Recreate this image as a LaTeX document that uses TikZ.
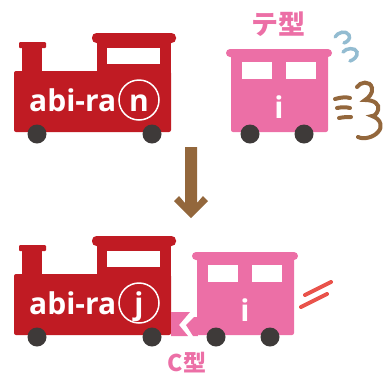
\documentclass[tikz,border=0pt]{standalone}
\usepackage{fontspec}
\setsansfont{Open Sans}
\newfontfamily\jpfont{Noto Sans CJK JP}
\usepackage{tikz}
\usetikzlibrary{positioning}
\definecolor{LocoRed}{HTML}{C01B23}
\definecolor{CarPink}{HTML}{EC6FA6}
\definecolor{WheelGray}{HTML}{3E3A39}
\definecolor{PuffBrown}{HTML}{93673C}
\definecolor{WindBlue}{HTML}{93BCD1}
\definecolor{SpeedRed}{HTML}{E9534B}

\begin{document}
\begin{tikzpicture}[x=1pt,y=-1pt,font=\sffamily,
  wheel/.style={fill=WheelGray},
  letter/.style={text=white,font=\sffamily\bfseries\fontsize{30}{30}\selectfont,inner sep=0pt,anchor=base},
  typelabel/.style={text=CarPink,inner sep=0pt}]
  \useasboundingbox (0,0) rectangle (390,381);

  % two rows: locomotive + car, before (n) and after (j)
  \foreach \dy/\dx/\ch/\nm in {0/0/n/top,203/-34/j/bot}{
    \begin{scope}[yshift=-\dy pt]
      % locomotive
      \fill[LocoRed,rounded corners=2pt] (14,71) rectangle (171,132);
      \fill[LocoRed] (97,42) rectangle (171,73);
      \fill[LocoRed,rounded corners=4.5pt] (92,33) rectangle (176,43);
      \fill[LocoRed] (22,46) rectangle (42,73);
      \fill[LocoRed,rounded corners=1pt] (19,42) rectangle (46,48);
      \fill[white] (107,48) rectangle (160,64);
      \node[letter,anchor=base west] (word-\nm) at (29,111) {abi-ra};
      \draw[white,line width=1.5pt] (139,100) circle[radius=20];
      \node[letter] (end-\nm) at (139,111) {\ch};
      \fill[wheel] (37,134) circle[radius=9.5];
      \fill[wheel] (152,134) circle[radius=9.5];
      % car
      \begin{scope}[xshift=\dx pt]
        \fill[CarPink,rounded corners=2pt] (231,55) rectangle (328,132);
        \fill[CarPink,rounded corners=4pt] (226,49) rectangle (332,57);
        \fill[white] (242,62) rectangle (272,79);
        \fill[white] (286,62) rectangle (316,79);
        \node[letter] (car-\nm) at (279,118) {i};
        \fill[wheel] (250,134) circle[radius=9.5];
        \fill[wheel] (304,134) circle[radius=9.5];
      \end{scope}
    \end{scope}
  }

  % coupler
  \fill[CarPink] (171,312) -- (190,312) -- (179,325) -- (188,336) -- (171,336) -- cycle;
  \fill[CarPink] (194,317) -- (198,317) -- (198,336) -- (193,336) -- (186,325) -- cycle;

  % labels
  \node[typelabel,font=\jpfont\bfseries\fontsize{27}{27}\selectfont] (te) at (278,24) {テ型};
  \node[typelabel,font=\jpfont\bfseries\fontsize{23}{23}\selectfont] (c) at (187,363) {C型};

  % wind
  \draw[WindBlue,line width=3.5pt,line cap=round]
    (335,37) .. controls (338,32) and (346,30) .. (349,35) .. controls (351,39) and (347,42) .. (344,43);
  \draw[WindBlue,line width=3.5pt,line cap=round]
    (343,52) .. controls (346,48) and (355,47) .. (357,52) .. controls (358,57) and (353,60) .. (350,61);

  % puff
  \begin{scope}[PuffBrown,line width=4pt,line cap=round]
    \draw (335,99) .. controls (342,97) and (346,97) .. (350,98);
    \draw (337,108) .. controls (342,107) and (346,107) .. (350,108);
    \draw (339,118) .. controls (344,117) and (347,117) .. (351,117);
    \draw (357,87) .. controls (360,82) and (370,80) .. (372,88)
      .. controls (373,94) and (368,98) .. (365,100)
      .. controls (374,100) and (380,104) .. (378,110)
      .. controls (377,114) and (374,116) .. (372,116)
      .. controls (381,119) and (383,127) .. (378,132)
      .. controls (374,137) and (364,140) .. (358,137);
  \end{scope}

  % speed lines
  \draw[SpeedRed,line width=4pt,line cap=round] (305,295) -- (331,282);
  \draw[SpeedRed,line width=4pt,line cap=round] (301,307) -- (327,294);

  % arrow
  \fill[PuffBrown] (185,147) -- (197,147) -- (197,203) -- (203,196) -- (208,201)
    -- (191,218) -- (174,201) -- (179,196) -- (185,203) -- cycle;
\end{tikzpicture}
\end{document}
